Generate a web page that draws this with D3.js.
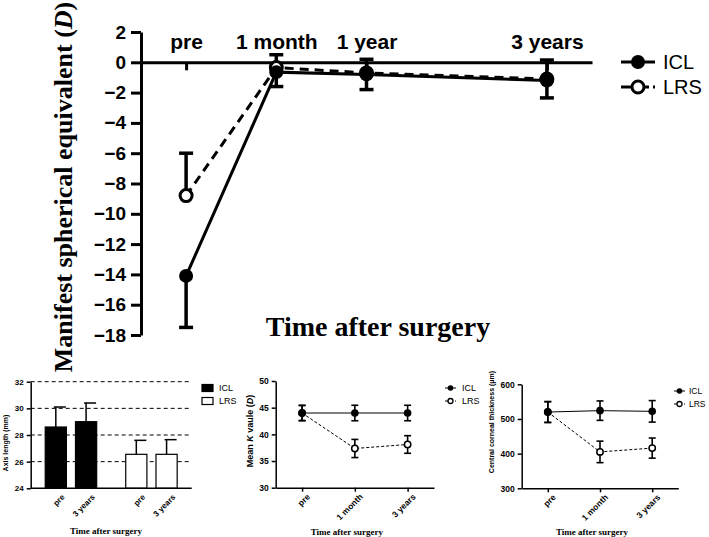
<!DOCTYPE html>
<html><head><meta charset="utf-8">
<script src="https://cdn.jsdelivr.net/npm/d3@7"></script>
<style>body{margin:0;background:#fff}svg{display:block}</style>
</head><body><svg id="c" width="709" height="537"></svg>
<script>
// ---------- DATA ----------
// Main chart: manifest spherical equivalent (D)
const mainCats = ["pre", "1 month", "1 year", "3 years"];
const mainYTicks = [-18,-16,-14,-12,-10,-8,-6,-4,-2,0,2];
const mainICL = [-14.1, -0.65, -0.8, -1.2];
const mainICLErr = [3.4, 0.95, 1.0, 1.15];   // drawn downward
const mainLRS = [-8.8, -0.35, -0.7, -1.1];
const mainLRSErr = [2.8, 0.85, 0.9, 1.25];   // drawn upward
const seriesNames = ["ICL", "LRS"];

// Panel A: axis length (mm)
const alCats = ["pre", "3 years"];
const alICL = [28.6, 29.0];
const alICLErr = [1.5, 1.4];
const alLRS = [26.55, 26.55];
const alLRSErr = [1.05, 1.1];
const alTicks = [24, 26, 28, 30, 32];

// Panel B: mean K value (D)
const kCats = ["pre", "1 month", "3 years"];
const kICL = [44, 44, 44];
const kICLErr = [1.45, 1.45, 1.45];
const kLRS = [44, 37.35, 38.1];
const kLRSErr = [1.4, 1.7, 1.65];
const kTicks = [30, 35, 40, 45, 50];

// Panel C: central corneal thickness (um)
const ccCats = ["pre", "1 month", "3 years"];
const ccICL = [520, 524, 522];
const ccICLErr = [30, 28, 31];
const ccLRS = [520, 405, 416];
const ccLRSErr = [30, 31, 29];
const ccTicks = [300, 400, 500, 600];

// ---------- DRAW ----------
const svg = d3.select("#c");
const SANS = "'Liberation Sans', Arial, sans-serif";
const SERIF = "'Liberation Serif', 'Times New Roman', serif";

// ===== main chart =====
const slot = d3.scaleOrdinal().domain(mainCats).range([1, 2, 3, 5]);
const mx = d3.scaleLinear().domain([0.5, 5.5]).range([141, 592]);
const my = d3.scaleLinear().domain([-18, 2]).range([335, 32]);
const M = svg.append("g");

const yAx = M.append("g").attr("transform", `translate(${mx(0.5)},0)`)
  .call(d3.axisLeft(my).tickValues(mainYTicks).tickSize(10).tickSizeOuter(0).tickPadding(5));
yAx.selectAll("path,line").attr("stroke", "#000").attr("stroke-width", 3);
yAx.selectAll("text").attr("font-family", SANS).attr("font-weight", "bold").attr("font-size", 19).attr("fill", "#000");

const xAx = M.append("g").attr("transform", `translate(0,${my(0)})`)
  .call(d3.axisTop(mx).tickValues(mainCats.map(slot)).tickFormat((d, i) => mainCats[i])
    .tickSizeInner(-8).tickSizeOuter(0).tickPadding(13));
xAx.selectAll("path,line").attr("stroke", "#000").attr("stroke-width", 3);
xAx.selectAll("text").attr("font-family", SANS).attr("font-weight", "bold").attr("font-size", 21).attr("fill", "#000");

// error bars
function vbar(g, x, ya, yb, cap, sw) {
  g.append("line").attr("x1", x).attr("x2", x).attr("y1", ya).attr("y2", yb).attr("stroke", "#000").attr("stroke-width", sw);
  g.append("line").attr("x1", x - cap / 2).attr("x2", x + cap / 2).attr("y1", yb).attr("y2", yb).attr("stroke", "#000").attr("stroke-width", sw);
}
const ME = M.append("g");
mainCats.forEach((c, i) => {
  vbar(ME, mx(slot(c)), my(mainICL[i]), my(mainICL[i] - mainICLErr[i]), 14, 3.5);
  vbar(ME, mx(slot(c)), my(mainLRS[i]), my(mainLRS[i] + mainLRSErr[i]), 14, 3.5);
});
const mline = d3.line().x((d, i) => mx(slot(mainCats[i]))).y(d => my(d));
M.append("path").datum(mainLRS).attr("d", mline).attr("fill", "none").attr("stroke", "#000").attr("stroke-width", 3).attr("stroke-dasharray", "9,6");
M.append("path").datum(mainICL).attr("d", mline).attr("fill", "none").attr("stroke", "#000").attr("stroke-width", 3);
M.selectAll(".lrs").data(mainLRS).join("circle").attr("cx", (d, i) => mx(slot(mainCats[i]))).attr("cy", d => my(d))
  .attr("r", 6).attr("fill", "#fff").attr("stroke", "#000").attr("stroke-width", 3);
M.selectAll(".icl").data(mainICL).join("circle").attr("cx", (d, i) => mx(slot(mainCats[i]))).attr("cy", d => my(d))
  .attr("r", 7).attr("fill", "#000");

// main legend
const ML = M.append("g");
seriesNames.forEach((s, i) => {
  const y = 62 + i * 25;
  ML.append("line").attr("x1", 621).attr("x2", 655).attr("y1", y).attr("y2", y).attr("stroke", "#000").attr("stroke-width", 3)
    .attr("stroke-dasharray", i ? "10,4,14,4,3,20" : null);
  if (i) ML.append("circle").attr("cx", 638).attr("cy", y).attr("r", 6).attr("fill", "#fff").attr("stroke", "#000").attr("stroke-width", 3);
  else ML.append("circle").attr("cx", 638).attr("cy", y).attr("r", 7).attr("fill", "#000");
  ML.append("text").attr("x", 663).attr("y", y).attr("dy", "0.36em").attr("font-family", SANS).attr("font-size", 20).text(s);
});

// main titles
const mt = M.append("text").attr("transform", "translate(72,187) rotate(-90)").attr("text-anchor", "middle")
  .attr("font-family", SERIF).attr("font-weight", "bold").attr("font-size", 26);
mt.append("tspan").text("Manifest spherical equivalent (");
mt.append("tspan").attr("font-style", "italic").text("D");
mt.append("tspan").text(")");
M.append("text").attr("x", 378).attr("y", 336).attr("text-anchor", "middle").attr("font-family", SERIF)
  .attr("font-weight", "bold").attr("font-size", 28).text("Time after surgery");

// ===== Panel A: bar chart =====
const A = svg.append("g");
const ay = d3.scaleLinear().domain([24, 32]).range([488.3, 381.7]);
const axLeft = 30.7, axRight = 191.7;
const gx = d3.scaleBand().domain(seriesNames).range([axLeft, axRight]).padding(0);
const ix = d3.scaleBand().domain(alCats).range([0, gx.bandwidth()]).paddingInner(0.3).paddingOuter(0.48);
// grid
A.selectAll(".grid").data(alTicks.slice(1)).join("line").attr("x1", axLeft).attr("x2", axRight)
  .attr("y1", d => ay(d)).attr("y2", d => ay(d)).attr("stroke", "#000").attr("stroke-width", 1).attr("stroke-dasharray", "4,3");
const alData = [
  { s: "ICL", v: alICL, e: alICLErr, fill: "#000" },
  { s: "LRS", v: alLRS, e: alLRSErr, fill: "#fff" }
];
alData.forEach(ser => {
  alCats.forEach((c, i) => {
    const x0 = gx(ser.s) + ix(c), w = ix.bandwidth(), cx = x0 + w / 2;
    const top = ay(ser.v[i]), eb = ay(ser.v[i] + ser.e[i]);
    A.append("line").attr("x1", cx).attr("x2", cx).attr("y1", top).attr("y2", eb).attr("stroke", "#000").attr("stroke-width", 1.5);
    A.append("line").attr("x1", cx - 2).attr("x2", cx + 10).attr("y1", eb).attr("y2", eb).attr("stroke", "#000").attr("stroke-width", 1.5);
    A.append("rect").attr("x", x0).attr("y", top).attr("width", w).attr("height", ay(24) - top)
      .attr("fill", ser.fill).attr("stroke", "#000").attr("stroke-width", 1.2);
    A.append("text").attr("transform", `translate(${cx + 6},${ay(24) + 6}) rotate(-45)`).attr("text-anchor", "end")
      .attr("dy", "0.6em").attr("font-family", SANS).attr("font-weight", "bold").attr("font-size", 8).text(c);
  });
});
const aY = A.append("g").attr("transform", `translate(${axLeft},0)`)
  .call(d3.axisLeft(ay).tickValues(alTicks).tickSize(4).tickSizeOuter(0).tickPadding(3));
aY.selectAll("path,line").attr("stroke", "#000").attr("stroke-width", 1.5);
aY.selectAll("text").attr("font-family", SANS).attr("font-weight", "bold").attr("font-size", 8).attr("fill", "#000");
A.append("line").attr("x1", axLeft).attr("x2", axRight).attr("y1", ay(24)).attr("y2", ay(24)).attr("stroke", "#000").attr("stroke-width", 1.5);
A.append("text").attr("transform", "translate(8,443) rotate(-90)").attr("text-anchor", "middle")
  .attr("font-family", SANS).attr("font-weight", "bold").attr("font-size", 7).text("Axis length (mm)");
A.append("text").attr("x", 106).attr("y", 534).attr("text-anchor", "middle").attr("font-family", SERIF)
  .attr("font-weight", "bold").attr("font-size", 9).text("Time after surgery");
alData.forEach((ser, i) => {
  A.append("rect").attr("x", 202).attr("y", 384.5 + i * 13).attr("width", 11).attr("height", 7)
    .attr("fill", ser.fill).attr("stroke", "#000").attr("stroke-width", 1.2);
  A.append("text").attr("x", 219).attr("y", 388 + i * 13).attr("dy", "0.35em").attr("font-family", SANS)
    .attr("font-size", 9).text(ser.s);
});

// ===== Line panels B & C =====
function linePanel(o) {
  const g = svg.append("g");
  const x = d3.scalePoint().domain(o.cats).range([o.x0, o.x1]).padding(0.5);
  const y = d3.scaleLinear().domain([o.ticks[0], o.ticks[o.ticks.length - 1]]).range([o.y0, o.y1]);
  const yA = g.append("g").attr("transform", `translate(${o.x0},0)`)
    .call(d3.axisLeft(y).tickValues(o.ticks).tickSize(4).tickSizeOuter(0).tickPadding(3));
  yA.selectAll("path,line").attr("stroke", "#000").attr("stroke-width", 1.5);
  yA.selectAll("text").attr("font-family", SANS).attr("font-weight", "bold").attr("font-size", 8.5).attr("fill", "#000");
  const xA = g.append("g").attr("transform", `translate(0,${o.y0})`)
    .call(d3.axisBottom(x).tickSize(4).tickSizeOuter(0).tickFormat(""));
  xA.selectAll("path,line").attr("stroke", "#000").attr("stroke-width", 1.5);
  o.cats.forEach(c => {
    g.append("text").attr("transform", `translate(${x(c) + 5},${o.y0 + 6}) rotate(-45)`).attr("text-anchor", "end")
      .attr("dy", "0.6em").attr("font-family", SANS).attr("font-weight", "bold").attr("font-size", 8.5).text(c);
  });
  const sers = [
    { v: o.lrs, e: o.lrsErr, dash: "3,2", open: true },
    { v: o.icl, e: o.iclErr, dash: null, open: false }
  ];
  sers.forEach(s => {
    o.cats.forEach((c, i) => {
      const cx = x(c);
      g.append("line").attr("x1", cx).attr("x2", cx).attr("y1", y(s.v[i] - s.e[i])).attr("y2", y(s.v[i] + s.e[i])).attr("stroke", "#000").attr("stroke-width", 1.6);
      [s.v[i] - s.e[i], s.v[i] + s.e[i]].forEach(val => g.append("line").attr("x1", cx - 3.5).attr("x2", cx + 3.5)
        .attr("y1", y(val)).attr("y2", y(val)).attr("stroke", "#000").attr("stroke-width", 1.6));
    });
  });
  sers.forEach(s => {
    const ln = d3.line().x((d, i) => x(o.cats[i])).y(d => y(d));
    g.append("path").datum(s.v).attr("d", ln).attr("fill", "none").attr("stroke", "#000").attr("stroke-width", 1).attr("stroke-dasharray", s.dash);
  });
  sers.forEach(s => {
    g.selectAll(null).data(s.v).join("circle").attr("cx", (d, i) => x(o.cats[i])).attr("cy", d => y(d))
      .attr("r", s.open ? 3.2 : 3.8).attr("fill", s.open ? "#fff" : "#000").attr("stroke", "#000").attr("stroke-width", s.open ? 1.5 : 0);
  });
  // title
  const t = g.append("text").attr("transform", `translate(${o.tx},${o.ty}) rotate(-90)`).attr("text-anchor", "middle")
    .attr("font-family", SANS).attr("font-weight", "bold").attr("font-size", o.tsize);
  o.title.forEach(p => t.append("tspan").attr("font-style", p.it ? "italic" : null).text(p.t));
  g.append("text").attr("x", (o.x0 + o.x1) / 2 - 8).attr("y", 535).attr("text-anchor", "middle").attr("font-family", SERIF)
    .attr("font-weight", "bold").attr("font-size", 9).text("Time after surgery");
  // legend
  seriesNames.forEach((nm, i) => {
    const ly = o.ly + i * 13;
    g.append("line").attr("x1", o.lx).attr("x2", o.lx + 11).attr("y1", ly).attr("y2", ly).attr("stroke", "#000").attr("stroke-width", 1)
      .attr("stroke-dasharray", i ? "3,2" : null);
    g.append("circle").attr("cx", o.lx + 5.5).attr("cy", ly).attr("r", i ? 2.5 : 2.8).attr("fill", i ? "#fff" : "#000")
      .attr("stroke", "#000").attr("stroke-width", i ? 1.3 : 0);
    g.append("text").attr("x", o.lx + o.tgap).attr("y", ly).attr("dy", "0.35em").attr("font-family", SANS).attr("font-size", o.lsize).text(nm);
  });
}

linePanel({
  cats: kCats, icl: kICL, iclErr: kICLErr, lrs: kLRS, lrsErr: kLRSErr, ticks: kTicks,
  x0: 275.7, x1: 434, y0: 487.7, y1: 381,
  title: [{ t: "Mean " }, { t: "K", it: true }, { t: " vaule (" }, { t: "D", it: true }, { t: ")" }],
  tx: 253, ty: 431, tsize: 9, lx: 445, ly: 388, tgap: 17, lsize: 9
});
linePanel({
  cats: ccCats, icl: ccICL, iclErr: ccICLErr, lrs: ccLRS, lrsErr: ccLRSErr, ticks: ccTicks,
  x0: 521.7, x1: 678.3, y0: 488.3, y1: 384.3,
  title: [{ t: "Central corneal thickness (μm)" }],
  tx: 494, ty: 422, tsize: 7, lx: 674, ly: 391, tgap: 15, lsize: 8.5
});
</script></body></html>
